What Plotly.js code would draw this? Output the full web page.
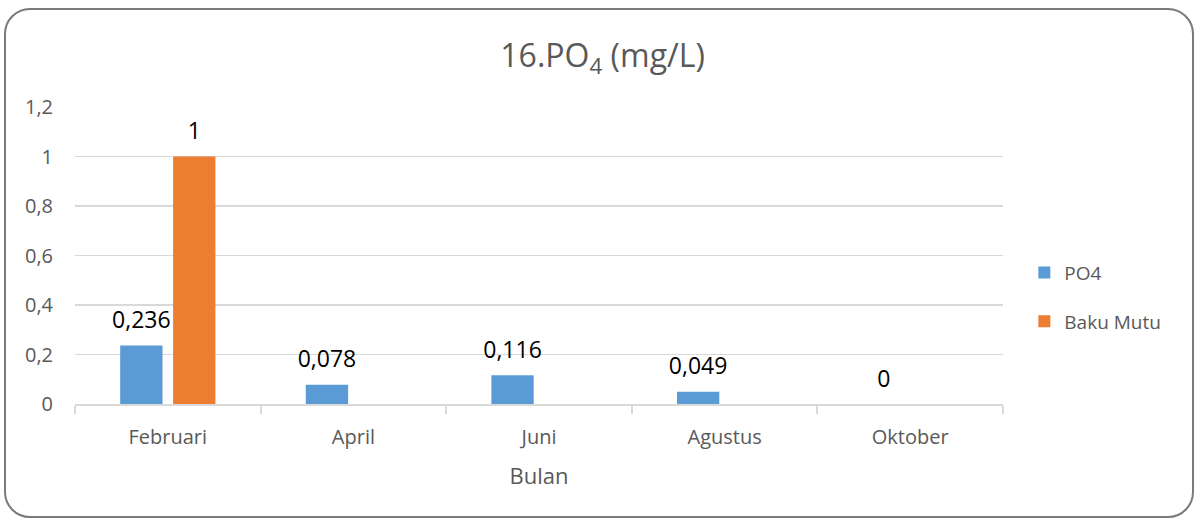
<!DOCTYPE html>
<html>
<head>
<meta charset="utf-8">
<script src="https://cdn.plot.ly/plotly-3.0.1.min.js"></script>
<style>
  html, body { margin: 0; padding: 0; background: #ffffff; }
  #wrap { position: relative; width: 1198px; height: 520px; overflow: hidden; }
  #frame { position: absolute; left: 4px; top: 8px; width: 1190px; height: 510px;
           border: 2px solid #7a7a7a; border-radius: 26px; box-sizing: border-box; pointer-events: none; }
  #chart { position: absolute; left: 0; top: 0; width: 1198px; height: 520px; }
</style>
</head>
<body>
<div id="wrap">
  <div id="chart"></div>
  <div id="frame"></div>
</div>
<script>
const categories = ["Februari", "April", "Juni", "Agustus", "Oktober"];
const po4Values = [0.236, 0.078, 0.116, 0.049, 0];
const bakuMutuValues = [1, null, null, null, null];
const yTickValues = [0, 0.2, 0.4, 0.6, 0.8, 1, 1.2];
const yTickLabels = ["0", "0,2", "0,4", "0,6", "0,8", "1", "1,2"];

const fmt = v => (v === null ? "" : String(v).replace(".", ","));

const fontFam = "Open Sans, sans-serif";
const labelFont = { color: "#000000", size: 23, family: fontFam };

const traces = [
  {
    type: "bar", name: "PO4", x: categories, y: po4Values,
    marker: { color: "#5b9bd5" }, legendgroup: "a", offsetgroup: "a", hoverinfo: "x+y"
  },
  {
    type: "bar", name: "Baku Mutu", x: categories, y: bakuMutuValues,
    marker: { color: "#ed7d31" }, legendgroup: "b", offsetgroup: "b", hoverinfo: "x+y"
  },
  {
    type: "scatter", mode: "markers+text", x: categories, y: po4Values, showlegend: false,
    offsetgroup: "a", marker: { size: 17, color: "rgba(0,0,0,0)" },
    text: po4Values.map(fmt), textposition: "top center", textfont: labelFont, cliponaxis: false
  },
  {
    type: "scatter", mode: "markers+text", x: categories, y: bakuMutuValues, showlegend: false,
    offsetgroup: "b", marker: { size: 17, color: "rgba(0,0,0,0)" },
    text: bakuMutuValues.map(fmt), textposition: "top center", textfont: labelFont, cliponaxis: false
  }
];

const layout = {
  width: 1198, height: 520,
  paper_bgcolor: "#ffffff", plot_bgcolor: "#ffffff",
  font: { family: fontFam, color: "#595959", size: 20 },
  margin: { l: 75, r: 195, t: 107, b: 116 },
  barmode: "group", bargap: 0.43, bargroupgap: 0.2,
  scattermode: "group", scattergap: 0.43,
  title: { text: "16.PO<sub>4</sub> (mg/L)", x: 0.503, xref: "container", xanchor: "center",
           y: 0.892, yref: "container", yanchor: "middle",
           font: { size: 32, color: "#595959", family: fontFam } },
  xaxis: {
    type: "category", showgrid: false, showline: true, linecolor: "#d9d9d9", linewidth: 2,
    ticks: "outside", tickson: "boundaries", ticklen: 8, tickcolor: "#d9d9d9", tickwidth: 2,
    ticklabelstandoff: 14,
    tickfont: { size: 20, color: "#595959" },
    title: { text: "Bulan", font: { size: 22, color: "#595959" }, standoff: 20 }
  },
  yaxis: {
    range: [0, 1.2], tickvals: yTickValues, ticktext: yTickLabels,
    showgrid: true, gridcolor: "#d9d9d9", gridwidth: 1.5, zeroline: false, showline: false,
    ticks: "outside", ticklen: 17, tickcolor: "rgba(0,0,0,0)",
    tickfont: { size: 20, color: "#595959" }
  },
  legend: { x: 1.023, xanchor: "left", y: 0.36, yanchor: "middle", orientation: "v",
            traceorder: "grouped", tracegroupgap: 21,
            font: { size: 19, color: "#595959" }, itemwidth: 30,
            bgcolor: "rgba(0,0,0,0)" },
  separators: ",.",
  showlegend: true
};

Plotly.newPlot("chart", traces, layout, { displayModeBar: false, staticPlot: true });
</script>
</body>
</html>
